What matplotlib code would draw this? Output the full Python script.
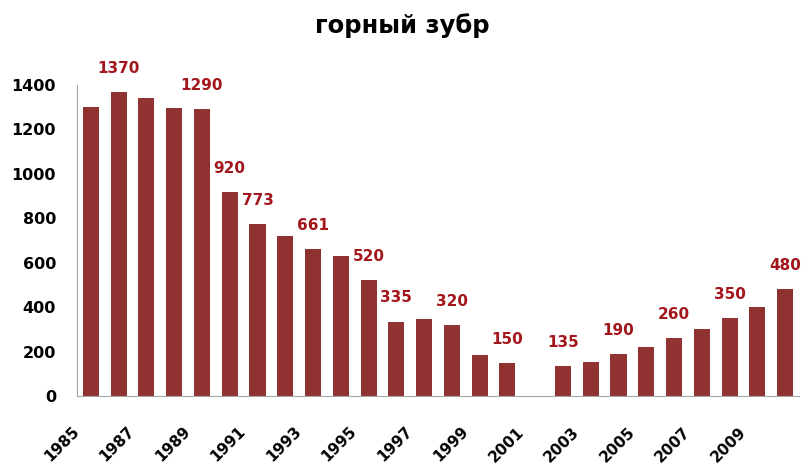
import matplotlib.pyplot as plt
from matplotlib.transforms import ScaledTranslation

# bison counts per year (2001 has no data)
years = list(range(1985, 2011))
counts = [1300, 1370, 1340, 1295, 1290, 920, 773, 720, 661, 630, 520, 335, 345,
          320, 185, 150, 0, 135, 155, 190, 220, 260, 300, 350, 400, 480]
labeled_years = [1986, 1989, 1990, 1991, 1993, 1995, 1996, 1998, 2000, 2002,
                 2004, 2006, 2008, 2010]
tick_years = list(range(1985, 2011, 2))
yticks = list(range(0, 1401, 200))

bar_color = '#913232'
label_color = '#a3161c'

fig = plt.figure(figsize=(8.04, 4.71), dpi=100)
ax = fig.add_axes([77 / 804, 1 - 396 / 471, 722 / 804, 311 / 471])

ax.bar(years, counts, width=0.58, color=bar_color)

for yr, c in zip(years, counts):
    if yr in labeled_years:
        ax.annotate(str(c), (yr, c), xytext=(0, 17), textcoords='offset points',
                    ha='center', va='center', color=label_color,
                    fontsize=11, fontweight='bold', annotation_clip=False)

ax.set_xlim(1984.5, 2010.5)
ax.set_ylim(0, 1400)
ax.set_yticks(yticks)
ax.set_xticks(tick_years)
ax.set_xticklabels([str(y) for y in tick_years], rotation=45, ha='right',
                   va='center', rotation_mode='anchor', fontsize=11,
                   fontweight='bold')
ax.tick_params(axis='x', length=0, pad=24)
ax.tick_params(axis='y', length=0, pad=15, labelsize=11.5)
for lab in ax.get_yticklabels():
    lab.set_fontweight('bold')
shift = ScaledTranslation(-0.14, 0, fig.dpi_scale_trans)
for lab in ax.get_xticklabels():
    lab.set_transform(lab.get_transform() + shift)

for s in ['top', 'right']:
    ax.spines[s].set_visible(False)
for s in ['left', 'bottom']:
    ax.spines[s].set_color('#a6a6a6')
    ax.spines[s].set_linewidth(0.8)

fig.text(0.5, 0.945, 'горный зубр', ha='center', va='center',
         fontsize=17.5, fontweight='bold')

plt.savefig('out.png', dpi=100)
